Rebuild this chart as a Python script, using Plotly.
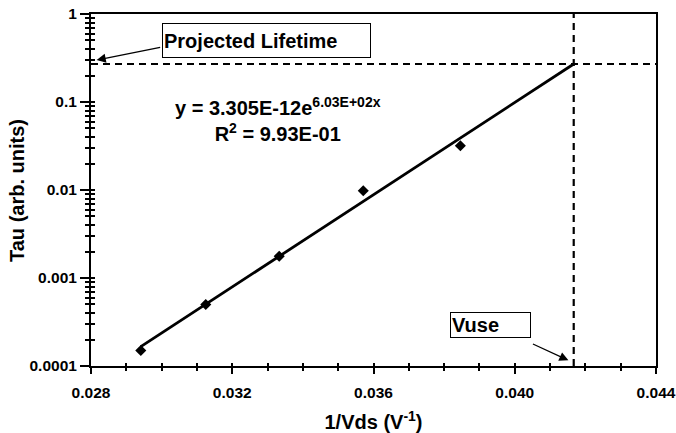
import math
import plotly.graph_objects as go

# ---- data ----
inv_vds = [0.02941, 0.03125, 0.03333, 0.03571, 0.03846]   # 1/Vds (1/V)
tau = [0.00015, 0.0005, 0.00177, 0.0098, 0.0318]         # Tau (arb. units)

fit_x = [0.02941, 0.04167]        # exponential trendline end points
fit_y = [0.000166, 0.27]

vuse_inv = 0.04167                # 1/Vuse
tau_projected = 0.27              # projected lifetime

x_range = [0.028, 0.044]
y_range = [0.0001, 1]
x_ticks = [0.028, 0.032, 0.036, 0.040, 0.044]
x_ticktext = ["0.028", "0.032", "0.036", "0.040", "0.044"]
y_ticks = [0.0001, 0.001, 0.01, 0.1, 1]
y_ticktext = ["0.0001", "0.001", "0.01", "0.1", "1"]
y_minor = [m * 10 ** e for e in range(-4, 0) for m in range(2, 10)]

FONT = "Arial, 'Liberation Sans', sans-serif"
BLACK = "#000000"

fig = go.Figure()

# projected-lifetime horizontal dashed line
fig.add_trace(go.Scatter(x=x_range, y=[tau_projected, tau_projected], mode="lines",
                         line=dict(color=BLACK, width=2, dash="7px,5px"),
                         hoverinfo="skip", cliponaxis=False))
# Vuse vertical dashed line
fig.add_trace(go.Scatter(x=[vuse_inv, vuse_inv], y=y_range, mode="lines",
                         line=dict(color=BLACK, width=2.2, dash="7px,5px"),
                         hoverinfo="skip", cliponaxis=False))
# trendline
fig.add_trace(go.Scatter(x=fit_x, y=fit_y, mode="lines",
                         line=dict(color=BLACK, width=2.8), hoverinfo="skip"))
# data points
fig.add_trace(go.Scatter(x=inv_vds, y=tau, mode="markers",
                         marker=dict(symbol="diamond", size=8.5, color=BLACK)))
# invisible trace to carry the overlay axes (for crossing ticks)
fig.add_trace(go.Scatter(x=inv_vds, y=tau, mode="markers", xaxis="x2", yaxis="y2",
                         marker=dict(opacity=0), hoverinfo="skip"))

tickfont = dict(family=FONT, size=15.5, color=BLACK, weight="bold")
titlefont = dict(family=FONT, size=20, color=BLACK, weight="bold")

fig.update_layout(
    width=676, height=433,
    margin=dict(l=91, r=20, t=14, b=67, autoexpand=False),
    paper_bgcolor="white", plot_bgcolor="white",
    showlegend=False,
    font=dict(family=FONT, color=BLACK),
    xaxis=dict(
        range=x_range, tickvals=x_ticks, ticktext=x_ticktext, automargin=False,
        ticks="outside", ticklen=6, tickwidth=2, tickcolor=BLACK,
        ticklabelstandoff=5,
        minor=dict(dtick=0.001, tick0=0.028, ticks="outside", ticklen=3,
                   tickwidth=1.5, tickcolor=BLACK),
        showline=True, linewidth=2, linecolor=BLACK, mirror=True,
        showgrid=False, zeroline=False, tickfont=tickfont,
        title=dict(text="1/Vds (V<sup>-1</sup>)", standoff=19, font=titlefont),
    ),
    yaxis=dict(
        type="log", range=[math.log10(y_range[0]), math.log10(y_range[1])],
        tickvals=y_ticks, ticktext=y_ticktext, automargin=False,
        ticks="outside", ticklen=9, tickwidth=2, tickcolor=BLACK,
        minor=dict(tickvals=y_minor, ticks="outside", ticklen=4,
                   tickwidth=1.5, tickcolor=BLACK),
        showline=True, linewidth=2, linecolor=BLACK, mirror=True,
        showgrid=False, zeroline=False, tickfont=tickfont,
    ),
    xaxis2=dict(
        overlaying="x", anchor="y2", range=x_range, tickvals=x_ticks, automargin=False,
        ticks="inside", ticklen=3, tickwidth=2, tickcolor=BLACK,
        minor=dict(dtick=0.001, tick0=0.028, ticks="inside", ticklen=3,
                   tickwidth=1.5, tickcolor=BLACK),
        showticklabels=False, showline=False, showgrid=False, zeroline=False,
    ),
    yaxis2=dict(
        overlaying="y", anchor="x2", type="log", automargin=False,
        range=[math.log10(y_range[0]), math.log10(y_range[1])],
        tickvals=y_ticks, ticks="inside", ticklen=4, tickwidth=2, tickcolor=BLACK,
        minor=dict(tickvals=y_minor, ticks="inside", ticklen=4,
                   tickwidth=1.5, tickcolor=BLACK),
        showticklabels=False, showline=False, showgrid=False, zeroline=False,
    ),
)

annfont = dict(family=FONT, size=20, color=BLACK)

# y-axis title
fig.add_annotation(
    text="<b>Tau (arb. units)</b>", xref="paper", yref="paper",
    x=-0.131, y=0.5, xanchor="center", yanchor="middle", textangle=-90,
    showarrow=False, font=annfont)

fig.add_annotation(
    text="<b>Projected Lifetime</b>", xref="paper", yref="paper",
    x=0.3106, y=0.9233, xanchor="center", yanchor="middle",
    width=205, height=31, align="left", valign="middle",
    bordercolor=BLACK, borderwidth=1, borderpad=1, bgcolor="white",
    showarrow=False, font=annfont)
fig.add_annotation(
    text="", xref="x", yref="y", x=0.02816, y=math.log10(0.30),
    ax=65, ay=-13, showarrow=True, arrowhead=2, arrowsize=1.4,
    arrowwidth=1.3, arrowcolor=BLACK)

fig.add_annotation(
    text="<b>Vuse</b>", xref="paper", yref="paper",
    x=0.7071, y=0.1165, xanchor="center", yanchor="middle",
    width=77, height=22, align="left", valign="middle",
    bordercolor=BLACK, borderwidth=1, borderpad=1, bgcolor="white",
    showarrow=False, font=annfont)
fig.add_annotation(
    text="", xref="x", yref="y", x=0.04152, y=math.log10(0.000116),
    ax=-37, ay=-17, showarrow=True, arrowhead=2, arrowsize=1.4,
    arrowwidth=1.3, arrowcolor=BLACK)

fig.add_annotation(
    text="<b>y = 3.305E-12e<sup>6.03E+02x</sup><br>R<sup>2</sup> = 9.93E-01</b>",
    xref="paper", yref="paper", x=0.331, y=0.699,
    xanchor="center", yanchor="middle", align="center",
    showarrow=False, font=annfont)

fig.write_html("out.html")
